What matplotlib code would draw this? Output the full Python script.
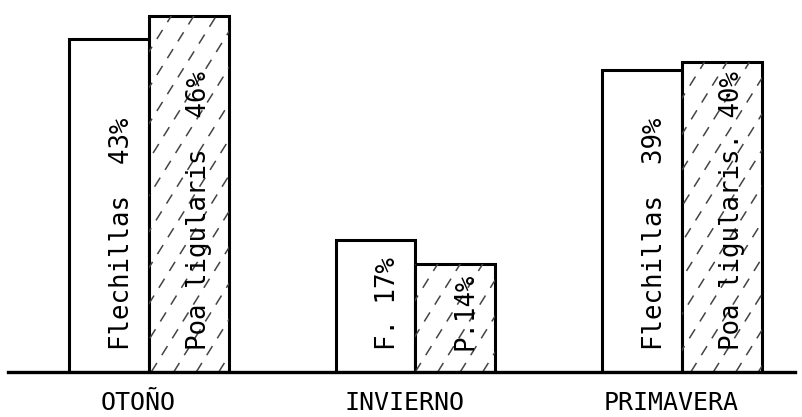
import numpy as np
import matplotlib
matplotlib.use('Agg')
import matplotlib.pyplot as plt

# datos (porcentajes por estacion)
estaciones = ['OTOÑO', 'INVIERNO', 'PRIMAVERA']
flechillas = [43, 17, 39]
poa = [46, 14, 40]
etiq_f = ['Flechillas  43%', 'F. 17%', 'Flechillas  39%']
etiq_p = ['Poa ligularis  46%', 'P.14%', 'Poa ligularis. 40%']

W, H = 802, 417
fig = plt.figure(figsize=(W / 100, H / 100), dpi=100)
ax = fig.add_axes([8 / W, 45 / H, 787 / W, 368 / H])
x0, x1 = -0.529, 2.424
y0, y1 = 0, 47.5
ax.set_xlim(x0, x1)
ax.set_ylim(y0, y1)

fuente = 'DejaVu Sans Mono'
ancho = 0.3
x = np.arange(len(estaciones))

barras_f = ax.bar(x - ancho / 2, flechillas, ancho, color='white', edgecolor='black', linewidth=2.2)
barras_p = ax.bar(x + ancho / 2, poa, ancho, color='white', edgecolor='black', linewidth=2.2)

# rayado a mano (lineas cortadas, como en el original)
sx = 787 / (x1 - x0)   # px por unidad x
sy = 368 / (y1 - y0)   # px por unidad y
m = np.tan(np.radians(58))
for b in barras_p:
    xl = b.get_x() * sx
    w = b.get_width() * sx
    h = b.get_height() * sy
    for c in np.arange(-h / m, w, 36 / m):
        xa, ya = xl + c, 0
        xb, yb = xl + c + h / m, h
        ln, = ax.plot([xa / sx, xb / sx], [ya / sy, yb / sy], color='#444444',
                      lw=1.1, ls=(0, (7, 6)), zorder=1.5)
        ln.set_clip_path(b)

for b, t in zip(barras_f, etiq_f):
    ax.annotate(t, xy=(b.get_x() + b.get_width() / 2, 0), xytext=(9, 16),
                textcoords='offset points', rotation=90, ha='center', va='bottom',
                fontsize=18.5, family=fuente, zorder=3)
for b, t in zip(barras_p, etiq_p):
    ax.annotate(t, xy=(b.get_x() + b.get_width() / 2, 0), xytext=(7, 16),
                textcoords='offset points', rotation=90, ha='center', va='bottom',
                fontsize=18.5, family=fuente, zorder=3)

for s in ['top', 'left', 'right']:
    ax.spines[s].set_visible(False)
ax.spines['bottom'].set_linewidth(2.4)
ax.set_yticks([])
ax.set_xticks(x - 0.04)
ax.set_xticklabels(estaciones, fontsize=18, family=fuente)
ax.tick_params(axis='x', length=0, pad=14)

fig.savefig('out.png', dpi=100)
